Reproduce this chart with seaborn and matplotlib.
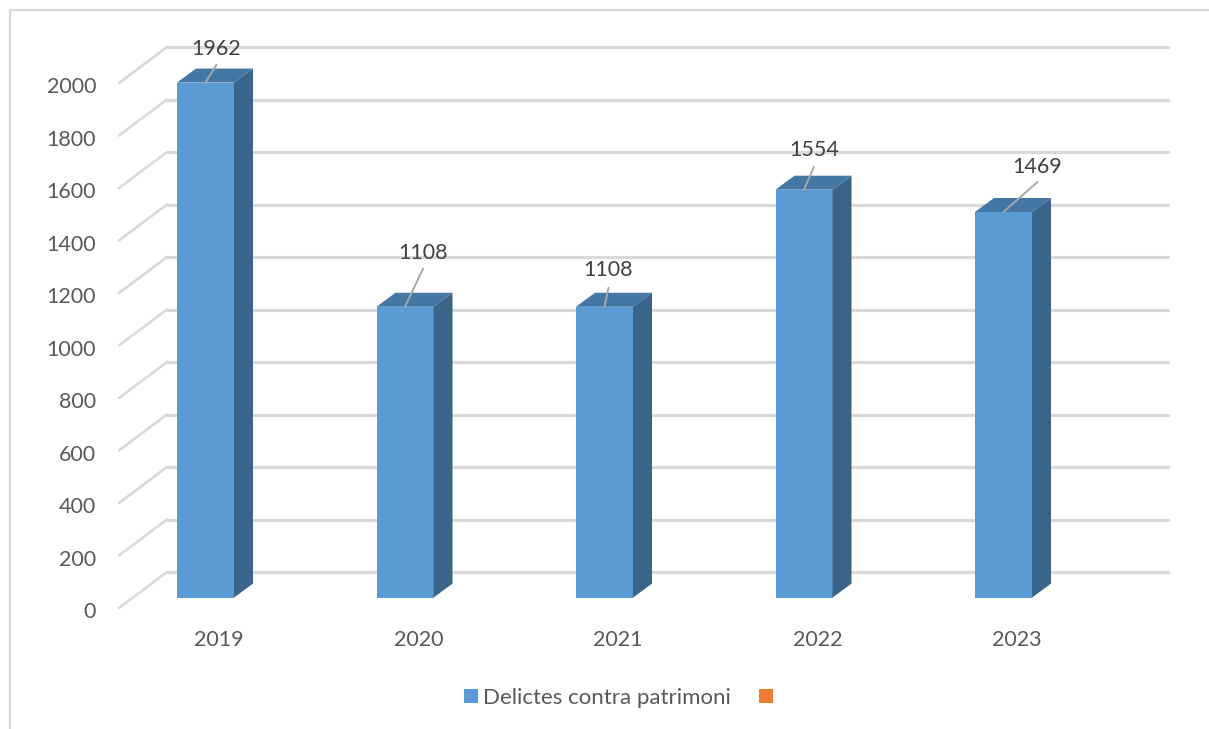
# Delictes contra patrimoni - Excel style 3D column chart

import matplotlib
matplotlib.use("Agg")
import matplotlib.pyplot as plt
from matplotlib.patches import Patch, Polygon
from matplotlib.transforms import Affine2D
import pandas as pd
import seaborn as sns

years = ["2019", "2020", "2021", "2022", "2023"]
delictes = [1962, 1108, 1108, 1554, 1469]
y_ticks = list(range(0, 2001, 200))
legend_labels = ["Delictes contra patrimoni", ""]

sns.set_theme(style="white")
plt.rcParams["font.family"] = ["Lato", "DejaVu Sans"]

W, H = 1209, 729
PX_X = 199.5     # pixels per category
PX_Y = 0.2625    # pixels per unit
BLUE, TOP, SIDE = "#5b9bd5", "#4477a3", "#3a6489"
GRID = "#d9d9d9"
TXT = "#595959"

fig = plt.figure(figsize=(W / 100, H / 100), dpi=100, facecolor="white")
left, right, top, bottom = 119, 1168, 47, 608
ax = fig.add_axes([left / W, 1 - bottom / H, (right - left) / W, (bottom - top) / H])

data = pd.DataFrame({"year": years, "delictes": delictes})
sns.barplot(data=data, x="year", y="delictes", color=BLUE, saturation=1,
            width=57 / PX_X, linewidth=0, ax=ax, zorder=3)

ax.set_xlim((left - 205.5) / PX_X, (right - 205.5) / PX_X)
ax.set_ylim((597.6 - bottom) / PX_Y, (597.6 - top) / PX_Y)
ax.set_xlabel("")
ax.set_ylabel("")
ax.patch.set_alpha(0)
sns.despine(ax=ax, left=True, bottom=True)

# depth of the box, floor shift of back wall and front edge, in data units
dx = 19 / PX_X
dy = 14 / PX_Y
back = 25.6 / PX_Y
front = -10.4 / PX_Y
x_front = ax.get_xlim()[0]
x_back = (167 - 205.5) / PX_X

for v in y_ticks:
    ax.plot([x_back, ax.get_xlim()[1]], [v + back, v + back], color=GRID, lw=2.3,
            solid_capstyle="round", zorder=1, clip_on=False)
    ax.plot([x_front, x_back], [v + front, v + back], color=GRID, lw=1.9,
            solid_capstyle="round", zorder=1, clip_on=False)

# side and top faces taken from the bars seaborn drew
for bar in list(ax.patches):
    x0, w, h = bar.get_x(), bar.get_width(), bar.get_height()
    ax.add_patch(Polygon([(x0 + w, 0), (x0 + w + dx, dy), (x0 + w + dx, h + dy), (x0 + w, h)],
                         closed=True, fc=SIDE, ec="none", zorder=3))
    ax.add_patch(Polygon([(x0, h), (x0 + dx, h + dy), (x0 + w + dx, h + dy), (x0 + w, h)],
                         closed=True, fc=TOP, ec="none", zorder=3))

# data labels with leader lines, offsets in pixels
leader_ends = [(11, 18), (18, 38), (4, 19), (10, 23), (34, 30)]
label_gaps = [16, 16, 18, 17, 15]
for i, v in enumerate(delictes):
    ox, oy = leader_ends[i]
    ax.annotate("", xy=(i, v), xytext=(ox, oy), textcoords="offset pixels",
                arrowprops=dict(arrowstyle="-", color="#a6a6a6", lw=1.4, shrinkA=0, shrinkB=0),
                zorder=5)
    ax.annotate(str(v), xy=(i, v), xytext=(ox, oy + label_gaps[i]), textcoords="offset pixels",
                ha="center", va="center", fontsize=15.5, color="#404040", zorder=6)

ax.set_yticks(y_ticks)
ax.set_xticks(range(len(years)))
ax.set_xticklabels(years)
ax.tick_params(axis="y", length=0, pad=16.5, labelsize=15.5, labelcolor=TXT)
ax.tick_params(axis="x", length=0, pad=16, labelsize=15.5, labelcolor=TXT)
for lab in ax.get_yticklabels():
    lab.set_transform(lab.get_transform() + Affine2D().translate(0, -12.5))
for lab in ax.get_xticklabels():
    lab.set_transform(lab.get_transform() + Affine2D().translate(13.5, 0))

# chart frame, only left and top are visible
fig.add_artist(plt.Line2D([10 / W, 10 / W, 1], [0, 1 - 10 / H, 1 - 10 / H],
                          color=GRID, lw=1.7, transform=fig.transFigure))

handles = [Patch(fc=BLUE, ec="none"), Patch(fc="#ed7d31", ec="none")]
fig.legend(handles, legend_labels, loc="center", bbox_to_anchor=(621 / W, 1 - 698 / H),
           ncol=2, frameon=False, fontsize=16, labelcolor=TXT, handlelength=0.63,
           handleheight=0.63, handletextpad=0.215, columnspacing=1.26)

fig.savefig("out.png", dpi=100)
